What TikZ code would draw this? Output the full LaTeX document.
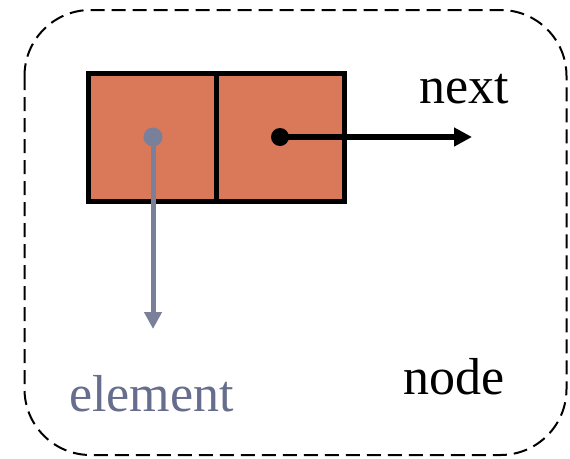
\documentclass[tikz,border=0pt]{standalone}
\usepackage{fontspec}
\setmainfont{Liberation Serif}
\usetikzlibrary{arrows.meta}
\definecolor{cellfill}{HTML}{DA785A}
\definecolor{ptrgray}{HTML}{7A8099}
\definecolor{elemtext}{HTML}{676E8D}
\tikzset{
  cell/.style={draw=black, line width=5pt, fill=cellfill, minimum width=128pt, minimum height=128pt, inner sep=0pt, outer sep=0pt},
  blackdot/.style={circle, fill=black, minimum size=18pt, inner sep=0pt},
  graydot/.style={circle, fill=ptrgray, minimum size=19pt, inner sep=0pt},
  lbl/.style={anchor=base west, inner sep=0pt, font=\fontsize{52}{60}\selectfont},
  frame/.style={draw=black, line width=2pt, dash pattern=on 14pt off 7pt, rounded corners=66pt}
}
\begin{document}
\begin{tikzpicture}[x=1pt, y=-1pt]
\useasboundingbox (0,0) rectangle (570,458);
\draw[frame] (24.5,10) rectangle (566.5,455);
\node[cell] (cellL) at (152.75,137.5) {};
\node[cell] (cellR) at (280.75,137.5) {};
\node[graydot] (gdot) at (153,137) {};
\node[blackdot] (bdot) at (280,137) {};
\coordinate (nextend) at (472,137);
\coordinate (elemend) at (153,329);
\draw[line width=5.5pt, -{Triangle[length=18pt, width=18pt]}] (bdot.center) -- (nextend);
\draw[ptrgray, line width=5pt, -{Triangle[length=17pt, width=17pt]}] (gdot.center) -- (elemend);
\node[lbl] (nextlbl) at (419,103) {next};
\node[lbl, text=elemtext] (elemlbl) at (69,411) {element};
\node[lbl] (nodelbl) at (403,394) {node};
\end{tikzpicture}
\end{document}
